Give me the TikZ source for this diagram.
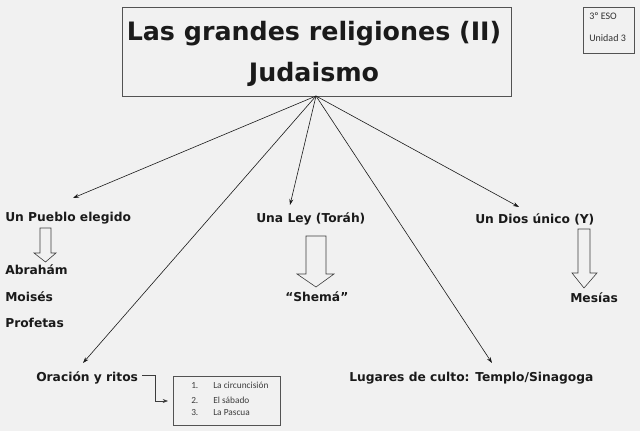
\documentclass[tikz,border=0pt]{standalone}
\usepackage{fontspec}
\setmainfont{DejaVu Sans}
\newfontfamily\calfont{Carlito}
\usetikzlibrary{arrows.meta}
\definecolor{bg}{HTML}{F1F1F1}
\definecolor{ink}{HTML}{1A1A1A}
\begin{document}
\begin{tikzpicture}[x=0.75pt,y=-0.75pt,
  lbl/.style={font=\bfseries\fontsize{9.2}{11}\selectfont, text=ink, anchor=base west, inner sep=0pt},
  ttl/.style={font=\bfseries\fontsize{19}{22}\selectfont, text=ink, anchor=base, inner sep=0pt},
  small/.style={font=\calfont\fontsize{7.5}{9}\selectfont, text=ink!90, anchor=base west, inner sep=0pt},
  item/.style={font=\calfont\fontsize{7}{8}\selectfont, text=ink!85, anchor=base west, inner sep=0pt},
  conn/.style={-{Stealth[length=4.5pt,width=3pt]}, line width=0.45pt, draw=ink},
  hollow/.style={draw=ink!85, line width=0.45pt, line join=miter},
  frame/.style={draw=ink!75, line width=0.5pt, inner sep=0pt}
]
\fill[bg] (0,0) rectangle (640,431);
\useasboundingbox (0,0) rectangle (640,431);

% title box
\node[frame, minimum width=291.75pt, minimum height=66.75pt] (title) at (316.5,51.5) {};
\node[ttl] (t1) at (314,41) {Las grandes religiones (II)};
\node[ttl] (t2) at (314,82) {Judaismo};

% top-right box
\node[frame, minimum width=38.25pt, minimum height=34.5pt] (unit) at (608.5,30) {};
\node[small] (u1) at (589,20) {3º ESO};
\node[small] (u2) at (589,42) {Unidad 3};

% labels
\node[lbl] (pueblo) at (5,221.5) {Un Pueblo elegido};
\node[lbl] (abraham) at (5,275) {Abrahám};
\node[lbl] (moises) at (5,301.5) {Moisés};
\node[lbl] (profetas) at (5,327.5) {Profetas};
\node[lbl] (ley) at (256,223) {Una Ley (Toráh)};
\node[lbl] (shema) at (285,301.5) {“Shemá”};
\node[lbl] (dios) at (475,224) {Un Dios único (Y)};
\node[lbl] (mesias) at (570,303) {Mesías};
\node[lbl] (oracion) at (36,381.5) {Oración y ritos};
\node[lbl] (lugares) at (349,382) {Lugares de culto: Templo/Sinagoga};

% arrow tips
\coordinate (o) at (316,96);
\coordinate (ap) at (73,198);
\coordinate (al) at (290,205);
\coordinate (ad) at (519,207);
\coordinate (ao) at (83,363);
\coordinate (ag) at (492,363);
\draw[conn] (o) -- (ap);
\draw[conn] (o) -- (al);
\draw[conn] (o) -- (ad);
\draw[conn] (o) -- (ao);
\draw[conn] (o) -- (ag);

% hollow arrows
\draw[hollow] (40,228) -- (51,228) -- (51,253) -- (56,253) -- (45.5,262) -- (34,253) -- (40,253) -- cycle;
\draw[hollow] (306,236) -- (326,236) -- (326,274) -- (334,274) -- (316,287) -- (297,274) -- (306,274) -- cycle;
\draw[hollow] (578,229) -- (590,229) -- (590,273) -- (597,273) -- (584,288) -- (572,273) -- (578,273) -- cycle;

% rites box
\node[frame, minimum width=80.25pt, minimum height=36.75pt] (ritos) at (226.5,400.5) {};
\node[item] (r1) at (191,388) {1.};
\node[item] (r1t) at (213,388) {La circuncisión};
\node[item] (r2) at (191,403) {2.};
\node[item] (r2t) at (213,403) {El sábado};
\node[item] (r3) at (191,416) {3.};
\node[item] (r3t) at (213,416) {La Pascua};
\coordinate (rs) at (142,375);
\coordinate (re) at (168,401);
\draw[-{Stealth[length=4pt,width=3pt]}, line width=0.45pt, draw=ink!85] (rs) -- (155,375) -- (155,401) -- (re);
\end{tikzpicture}
\end{document}
